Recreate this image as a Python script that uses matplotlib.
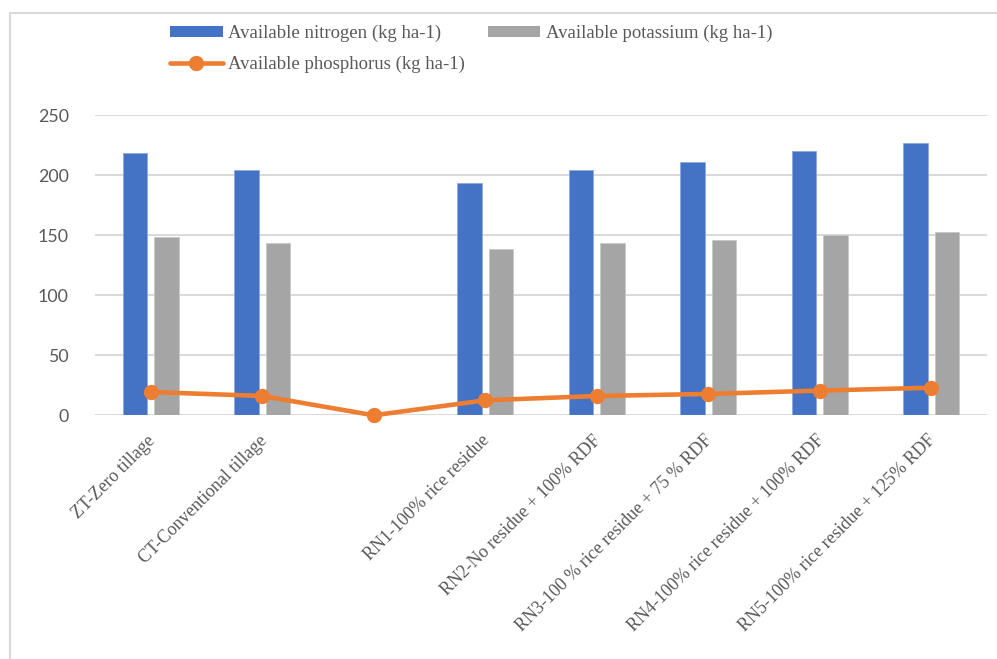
import numpy as np
import matplotlib
matplotlib.use("Agg")
import matplotlib.pyplot as plt
import matplotlib.transforms as mtransforms
from matplotlib.patches import Rectangle, Patch
from matplotlib.lines import Line2D

# Treatments (the third slot is an empty spacer category)
categories = [
    "ZT-Zero tillage",
    "CT-Conventional tillage",
    "",
    "RN1-100% rice residue",
    "RN2-No residue + 100% RDF",
    "RN3-100 % rice residue + 75 % RDF",
    "RN4-100% rice residue + 100% RDF",
    "RN5-100% rice residue + 125% RDF",
]
nitrogen = [218.3, 204.2, np.nan, 193.3, 204.4, 211.1, 220.3, 226.7]
potassium = [148.9, 143.3, np.nan, 138.3, 143.3, 145.8, 150.3, 152.5]
phosphorus = [19.4, 16.1, 0.0, 12.5, 16.1, 17.8, 20.6, 23.0]
y_ticks = [0, 50, 100, 150, 200, 250]

series_names = [
    "Available nitrogen (kg ha-1)",
    "Available phosphorus (kg ha-1)",
    "Available potassium (kg ha-1)",
]

BLUE = "#4472C4"
GRAY = "#A5A5A5"
ORANGE = "#ED7D31"
TEXT = "#595959"
GRID = "#D9D9D9"

W, H = 997, 659
fig = plt.figure(figsize=(W / 100, H / 100), dpi=100)
fig.patch.set_facecolor("white")

left, right = 95 / W, 987 / W
bottom, top = 1 - 415.3 / H, 1 - 115.3 / H
ax = fig.add_axes([left, bottom, right - left, top - bottom])

x = np.arange(len(categories))
bw = 0.221
off = 0.141
ax.bar(x - off, nitrogen, width=bw, color=BLUE, edgecolor="#8FA9DC",
       linewidth=0.6, zorder=2)
ax.bar(x + off, potassium, width=bw, color=GRAY, edgecolor="#C8C8C8",
       linewidth=0.6, zorder=2)
ax.plot(x, phosphorus, color=ORANGE, linewidth=3.3, marker="o",
        markersize=10, solid_capstyle="round", zorder=3, clip_on=False)

ax.set_xlim(-0.5, len(categories) - 0.5)
ax.set_ylim(0, 250)
ax.set_yticks(y_ticks)
ax.yaxis.grid(True, color=GRID, linewidth=1.4, zorder=0)
ax.set_axisbelow(True)
for s in ["top", "right", "left", "bottom"]:
    ax.spines[s].set_visible(False)

ax.tick_params(axis="y", length=0, pad=19, labelcolor=TEXT)
for lbl in ax.get_yticklabels():
    lbl.set_fontfamily("Lato")
    lbl.set_fontsize(12.8)

ax.set_xticks(x)
ax.set_xticklabels(categories, rotation=45, ha="right", va="top",
                   rotation_mode="anchor", fontfamily="Liberation Serif",
                   fontsize=13, color=TEXT)
ax.tick_params(axis="x", length=0, pad=12)
# nudge the rotated labels so their ends sit just left of each category centre
shift = mtransforms.ScaledTranslation(-4 / 100, 0, fig.dpi_scale_trans)
for lbl in ax.get_xticklabels():
    lbl.set_transform(lbl.get_transform() + shift)

# Legend
handles = [
    Patch(facecolor=BLUE, edgecolor="none"),
    Line2D([0], [0], color=ORANGE, linewidth=3.3, marker="o", markersize=10,
           solid_capstyle="round"),
    Patch(facecolor=GRAY, edgecolor="none"),
]
fig.legend(handles, series_names, ncol=2, loc="upper left",
           bbox_to_anchor=(170 / W, 1 - 25 / H), frameon=False,
           prop={"family": "Liberation Serif", "size": 13.5},
           labelcolor=TEXT, handlelength=2.8, handleheight=0.5,
           handletextpad=0.3, columnspacing=1.2, labelspacing=0.72,
           borderaxespad=0, borderpad=0)

# Chart-area border
fig.add_artist(Rectangle((10 / W, -0.1), 1.2, 1.1 - 13 / H,
                         transform=fig.transFigure, fill=False,
                         edgecolor=GRID, linewidth=1.5, clip_on=False))

fig.savefig("out.png", dpi=100, facecolor="white")
